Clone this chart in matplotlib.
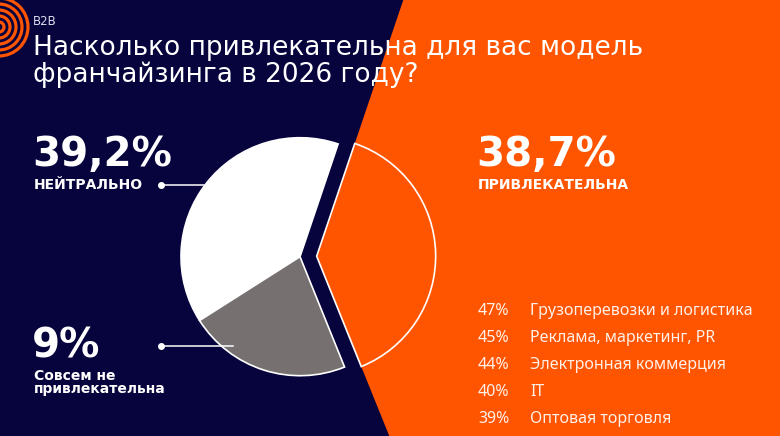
import numpy as np
import matplotlib
matplotlib.use("Agg")
import matplotlib.pyplot as plt
from matplotlib.patches import Rectangle, Polygon, Arc

# ---- data ----
pie_labels = ["Привлекательна", "Нейтрально", "Совсем не привлекательна"]
pie_values = [38.7, 39.2, 22.1]
shown_pct = ["38,7%", "39,2%", "9%"]
sectors = ["Грузоперевозки и логистика", "Реклама, маркетинг, PR",
           "Электронная коммерция", "IT", "Оптовая торговля"]
sector_pct = [47, 45, 44, 40, 39]
title_lines = ["Насколько привлекательна для вас модель",
               "франчайзинга в 2026 году?"]

NAVY = "#06033d"
ORANGE = "#ff5500"
GREY = "#767170"
W, H = 780, 436

fig = plt.figure(figsize=(7.8, 4.36), dpi=100)
ax = fig.add_axes([0, 0, 1, 1])

def Y(y):
    return H - y

# pie geometry
center = (300, Y(256.7))
radius = 119
start = -68.0
explode = 0.14

# background
ax.add_patch(Rectangle((0, 0), W, H, color=NAVY, zorder=0))
frac = pie_values[0] / sum(pie_values)
th1 = np.deg2rad(start)
th2 = np.deg2rad(start + frac * 360)
thm = (th1 + th2) / 2
apex = (center[0] + explode * radius * np.cos(thm),
        center[1] + explode * radius * np.sin(thm))
top_x = apex[0] + (H - apex[1]) / np.tan(th2)
bot_x = apex[0] + (0 - apex[1]) / np.tan(th1)
ax.add_patch(Polygon([apex, (top_x, H), (W, H), (W, 0), (bot_x, 0)],
                     closed=True, color=ORANGE, zorder=0.5, lw=0))

wedges, _ = ax.pie(pie_values, colors=[ORANGE, "white", GREY],
                   startangle=start, counterclock=True,
                   explode=[explode * radius, 0, 0], center=center,
                   radius=radius,
                   wedgeprops=dict(edgecolor="white", linewidth=1.2),
                   frame=True)
for w in wedges:
    w.set_zorder(2)

ax.set_xlim(0, W)
ax.set_ylim(0, H)
ax.set_aspect("auto")
ax.axis("off")

# logo arcs
for r in [29, 23, 17, 11, 5]:
    ax.add_patch(Arc((-1, Y(27)), 2 * r, 2 * r, theta1=-90, theta2=90,
                     color=ORANGE, lw=2.3, zorder=3))

ax.text(33, Y(25), "B2B", fontsize=8.5, color="#dcdcec",
        family="DejaVu Sans", va="baseline", ha="left")
for i, line in enumerate(title_lines):
    ax.text(33, Y(55 + 27 * i), line, fontsize=19, color="white",
            family="DejaVu Sans", va="baseline", ha="left", zorder=5)

BIG = 29
SMALL = 10
# left labels
ax.text(32, Y(166), shown_pct[1], fontsize=BIG, fontweight="bold",
        color="white", family="DejaVu Sans", va="baseline")
ax.text(34, Y(189), pie_labels[1].upper(), fontsize=SMALL, fontweight="bold",
        color="white", family="DejaVu Sans", va="baseline")
ax.plot([161, 204], [Y(185), Y(185)], color="white", lw=1.1, zorder=4)
ax.plot([161], [Y(185)], "o", color="white", ms=4, zorder=4)

ax.text(32, Y(357), shown_pct[2], fontsize=BIG, fontweight="bold",
        color="white", family="DejaVu Sans", va="baseline")
ax.text(34, Y(380), "Совсем не", fontsize=SMALL, fontweight="bold",
        color="white", family="DejaVu Sans", va="baseline")
ax.text(34, Y(393), "привлекательна", fontsize=SMALL, fontweight="bold",
        color="white", family="DejaVu Sans", va="baseline")
ax.plot([161, 233], [Y(346), Y(346)], color="white", lw=1.1, zorder=4)
ax.plot([161], [Y(346)], "o", color="white", ms=4, zorder=4)

# right labels
ax.text(476, Y(166), shown_pct[0], fontsize=BIG, fontweight="bold",
        color="white", family="DejaVu Sans", va="baseline")
ax.text(478, Y(189), pie_labels[0].upper(), fontsize=SMALL, fontweight="bold",
        color="white", family="DejaVu Sans", va="baseline")

for i, (p, s) in enumerate(zip(sector_pct, sectors)):
    yy = Y(315 + 26.9 * i)
    ax.text(478, yy, f"{p}%", fontsize=11.5, color="#fff1ea",
            family="Noto Sans", va="baseline")
    ax.text(530, yy, s, fontsize=11.5, color="#fff1ea",
            family="Noto Sans", va="baseline")

fig.savefig("out.png", dpi=100, facecolor=NAVY)
